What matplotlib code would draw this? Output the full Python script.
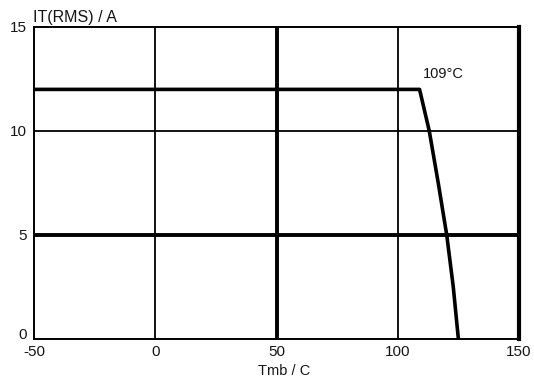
import matplotlib
matplotlib.use("Agg")
import matplotlib.pyplot as plt
import matplotlib.transforms as mtransforms

# derating curve: on-state RMS current vs mounting base temperature
tmb = [-50, 109, 110, 113, 116.7, 120.2, 122.9, 125]
it_rms = [12, 12, 11.5, 10, 7.5, 5, 2.5, 0]

x_ticks = [-50, 0, 50, 100, 150]
y_ticks = [0, 5, 10, 15]
knee_label = "109°C"

plt.rcParams["font.family"] = ["Liberation Sans", "DejaVu Sans"]
TEXT = "#151515"

fig = plt.figure(figsize=(5.34, 3.85), dpi=100)
ax = fig.add_axes([34 / 534, 46 / 385, 485 / 534, 312 / 385])

ax.set_xlim(-50, 150)
ax.set_ylim(0, 15)

# grid: thin lines, with x=50 and y=5 drawn heavier
for x in [0, 100]:
    ax.axvline(x, color="black", lw=1.3, zorder=1)
ax.axvline(50, color="black", lw=2.8, zorder=1)
ax.axhline(10, color="black", lw=1.3, zorder=1)
ax.axhline(5, color="black", lw=2.8, zorder=1)

ax.plot(tmb, it_rms, color="black", lw=2.6, solid_joinstyle="round", zorder=3)
ax.text(110.5, 12.75, knee_label, fontsize=10.5, ha="left", va="center", color=TEXT)

for side in ["left", "top", "bottom"]:
    ax.spines[side].set_linewidth(1.4)
ax.spines["right"].set_linewidth(3)

ax.set_xticks(x_ticks)
ax.set_yticks(y_ticks)
ax.tick_params(length=0, labelsize=11, labelcolor=TEXT)
ax.tick_params(axis="x", pad=4)
ax.tick_params(axis="y", pad=5)
ax.set_xticklabels([str(v) for v in x_ticks])
ax.set_yticklabels([str(v) for v in y_ticks])

# lift the y=0 label a little so it clears the -50 below it
y0 = ax.get_yticklabels()[0]
y0.set_transform(y0.get_transform() + mtransforms.ScaledTranslation(0, 4 / 72, fig.dpi_scale_trans))

ax.text(-50.5, 15.1, "IT(RMS) / A", fontsize=11.5, ha="left", va="bottom", color=TEXT)
ax.text(53, -1.55, "Tmb / C", fontsize=10.5, ha="center", va="center", color=TEXT)

fig.savefig("out.png", dpi=100, facecolor="white")
